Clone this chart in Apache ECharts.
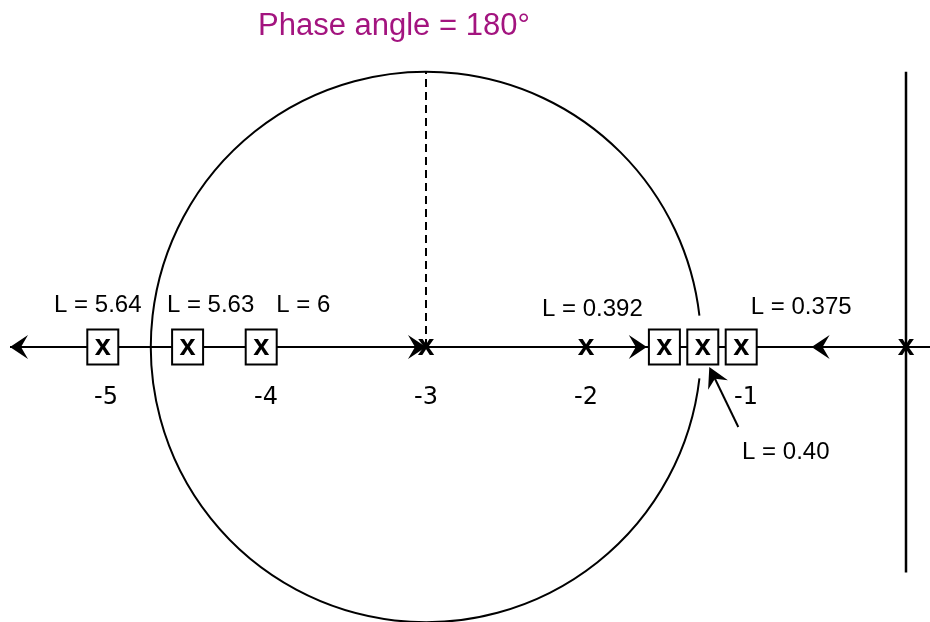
<!DOCTYPE html>
<html>
<head>
<meta charset="utf-8">
<script src="https://cdn.jsdelivr.net/npm/echarts@6/dist/echarts.min.js"></script>
<style>
html, body { margin: 0; padding: 0; background: #fff; }
#main { width: 930px; height: 622px; }
</style>
</head>
<body>
<div id="main"></div>
<script>
// root locus, real axis units
var openLoopPoles = [-3, -2, 0];
var closedLoopPoles = [-5.02, -4.49, -4.03, -1.51, -1.27, -1.03];
var gainLabels = ['L = 5.64', 'L = 5.63', 'L = 6', 'L = 0.392', 'L = 0.40', 'L = 0.375'];
var tickValues = [-5, -4, -3, -2, -1];
var tickLabels = ['-5', '-4', '-3', '-2', '-1'];
var arrowTips = [-5.60, -3.0, -1.62, -0.59];
var arrowDirs = [-1, 1, 1, -1];
var realAxisLine = [[-5.60, 0], [0.15, 0]];
var imagAxisLine = [[0, -1.41], [0, 1.72]];
var circleCenter = [-3, 0];
var circleRadius = 1.72;
var titleText = 'Phase angle = 180°';

var FONT = '"Liberation Sans", Arial, sans-serif';
var TICK_FONT = '"DejaVu Sans", "Liberation Sans", sans-serif';

// label placement (pixels, relative to the boxed pole)
var labelOffsets = [[-5, -42], [23, -42], [42, -42], [-72, -38], [83, 105], [60, -40]];
var pointerIndex = 4; // L = 0.40 gets a pointer arrow

function arrowHead(tx, ty, ux, uy, len, hw, notch) {
    var nx = -uy, ny = ux;
    return {
        type: 'polygon',
        shape: {
            points: [
                [tx, ty],
                [tx - ux * len + nx * hw, ty - uy * len + ny * hw],
                [tx - ux * notch, ty - uy * notch],
                [tx - ux * len - nx * hw, ty - uy * len - ny * hw]
            ]
        },
        style: { fill: '#000' }
    };
}

var chart = echarts.init(document.getElementById('main'));

var option = {
    animation: false,
    backgroundColor: '#fff',
    title: {
        text: titleText,
        left: 258,
        top: 11,
        padding: 0,
        textStyle: { fontFamily: FONT, fontSize: 31, fontWeight: 'normal', color: '#A3147F' }
    },
    grid: { left: 0, right: 0, top: 0, bottom: 0 },
    xAxis: { type: 'value', min: -5.6625, max: 0.15, show: false },
    yAxis: { type: 'value', min: -1.71875, max: 2.16875, show: false },
    series: [
        {
            // real axis
            type: 'line',
            data: realAxisLine,
            symbol: 'none',
            lineStyle: { color: '#000', width: 2.2 },
            z: 1
        },
        {
            // imaginary axis
            type: 'line',
            data: imagAxisLine,
            symbol: 'none',
            lineStyle: { color: '#000', width: 2.5 },
            z: 1
        },
        {
            // dashed radius up to the circle
            type: 'line',
            data: [circleCenter, [circleCenter[0], circleCenter[1] + circleRadius]],
            symbol: 'none',
            lineStyle: { color: '#000', width: 2, type: [8, 5] },
            z: 1
        },
        {
            // circle, broken where it meets the boxes on the right
            type: 'custom',
            data: [circleCenter],
            renderItem: function (params, api) {
                var c = api.coord([api.value(0), api.value(1)]);
                var r = api.size([circleRadius, 0])[0];
                var gap = 0.114;
                return {
                    type: 'arc',
                    shape: { cx: c[0], cy: c[1], r: r, startAngle: gap, endAngle: Math.PI * 2 - gap, clockwise: true },
                    style: { stroke: '#000', fill: null, lineWidth: 2 }
                };
            },
            z: 1
        },
        {
            // direction arrows on the locus
            type: 'custom',
            data: arrowTips.map(function (s, i) { return [s, 0, arrowDirs[i]]; }),
            renderItem: function (params, api) {
                var p = api.coord([api.value(0), api.value(1)]);
                return arrowHead(p[0], p[1], api.value(2), 0, 18, 12, 11);
            },
            z: 3
        },
        {
            // open loop poles
            type: 'custom',
            data: openLoopPoles.map(function (s) { return [s, 0]; }),
            renderItem: function (params, api) {
                var p = api.coord([api.value(0), api.value(1)]);
                return {
                    type: 'text',
                    x: p[0],
                    y: p[1],
                    style: { text: 'x', font: 'bold 30px ' + FONT, fill: '#000', align: 'center', verticalAlign: 'middle' }
                };
            },
            z: 4
        },
        {
            // closed loop poles with gain labels
            type: 'custom',
            data: closedLoopPoles.map(function (s) { return [s, 0]; }),
            renderItem: function (params, api) {
                var p = api.coord([api.value(0), api.value(1)]);
                var i = params.dataIndex;
                var off = labelOffsets[i];
                var children = [
                    {
                        type: 'rect',
                        shape: { x: p[0] - 15.5, y: p[1] - 17.5, width: 31, height: 35 },
                        style: { fill: '#fff', stroke: '#000', lineWidth: 2 }
                    },
                    {
                        type: 'text',
                        x: p[0],
                        y: p[1],
                        style: { text: 'x', font: 'bold 29px ' + FONT, fill: '#000', align: 'center', verticalAlign: 'middle' }
                    },
                    {
                        type: 'text',
                        x: p[0] + off[0],
                        y: p[1] + off[1],
                        style: { text: gainLabels[i], font: '24px ' + FONT, fill: '#000', align: 'center', verticalAlign: 'middle' }
                    }
                ];
                if (i === pointerIndex) {
                    var tx = p[0] + 6.5, ty = p[1] + 20;
                    var sx = p[0] + 35.5, sy = p[1] + 80;
                    var dx = tx - sx, dy = ty - sy;
                    var d = Math.sqrt(dx * dx + dy * dy);
                    children.push({
                        type: 'line',
                        shape: { x1: sx, y1: sy, x2: tx - dx / d * 10, y2: ty - dy / d * 10 },
                        style: { stroke: '#000', lineWidth: 2 }
                    });
                    children.push(arrowHead(tx, ty, dx / d, dy / d, 20, 11, 13));
                }
                return { type: 'group', children: children };
            },
            z: 5
        },
        {
            // tick labels under the axis
            type: 'custom',
            data: tickValues.map(function (v) { return [v, 0]; }),
            renderItem: function (params, api) {
                var p = api.coord([api.value(0), api.value(1)]);
                return {
                    type: 'text',
                    x: p[0],
                    y: p[1] + 51,
                    style: { text: tickLabels[params.dataIndex], font: '24px ' + TICK_FONT, fill: '#000', align: 'center', verticalAlign: 'middle' }
                };
            },
            z: 5
        }
    ]
};

chart.setOption(option);
</script>
</body>
</html>
